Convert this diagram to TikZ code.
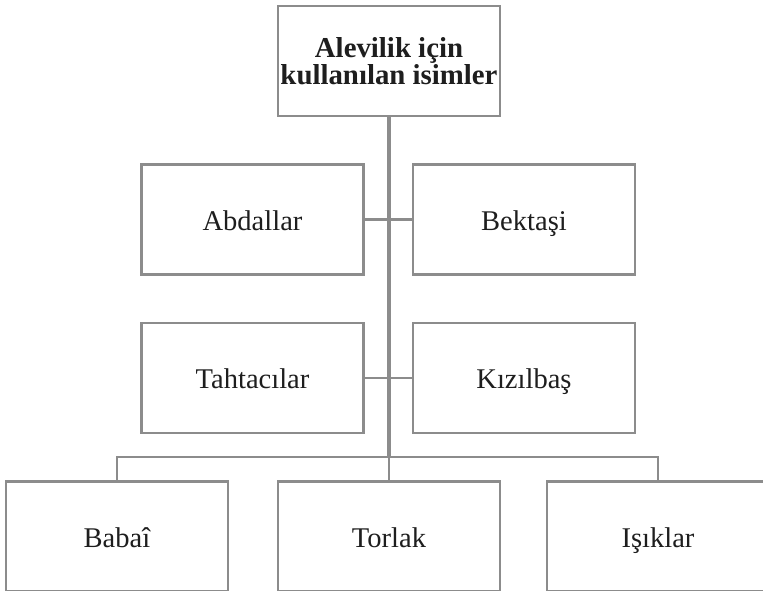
\documentclass[tikz,border=0pt]{standalone}
\usepackage{fontspec}
\setmainfont{Liberation Serif}
\definecolor{linegray}{HTML}{8C8C8C}
\definecolor{textgray}{HTML}{1E1E1E}

\begin{document}
\begin{tikzpicture}[x=0.025cm, y=-0.025cm,
    box/.style={draw=linegray, line width=1.6pt, fill=white, text=textgray,
      minimum width=5.55cm, minimum height=2.75cm, inner sep=0pt},
    leaf/.style={box, text height=17pt, text depth=1.5pt,
      font=\fontsize{20.3}{22}\selectfont},
    conn/.style={draw=linegray, line width=1.6pt},
    trunk/.style={draw=linegray, line width=2.2pt}]
				      % Frame
				      \useasboundingbox (0,0) rectangle (763,592);
				      \clip (0,0) rectangle (763,590.5);

				      % Root
				      \node[box, align=center, font=\fontsize{20.5}{19}\bfseries] (root) at (389,61)
				      {Alevilik için\\kullanılan isimler};

				      % Middle rows
				      \node[leaf] (abdal) at (252.5,219.5) {Abdallar};
				      \node[leaf] (bektas) at (524,219.5) {Bektaşi};
				      \node[leaf] (tahta) at (252.5,378) {Tahtacılar};
				      \node[leaf] (kizil) at (524,378) {Kızılbaş};

				      % Bottom row
				      \node[leaf] (babai) at (117,536.5) {Babaî};
				      \node[leaf] (torlak) at (389,536.5) {Torlak};
				      \node[leaf] (isik) at (658,536.5) {Işıklar};

				      % Connectors
				      \coordinate (bus) at (389,457);
				      \draw[conn] (abdal.east) -- (bektas.west);
				      \draw[conn] (tahta.east) -- (kizil.west);
				      \draw[conn] (babai.north) |- (bus) -| (isik.north);
				      \draw[conn] (bus) -- (torlak.north);
				      \draw[trunk] (root.south) -- (bus);
			      \end{tikzpicture}
\end{document}
